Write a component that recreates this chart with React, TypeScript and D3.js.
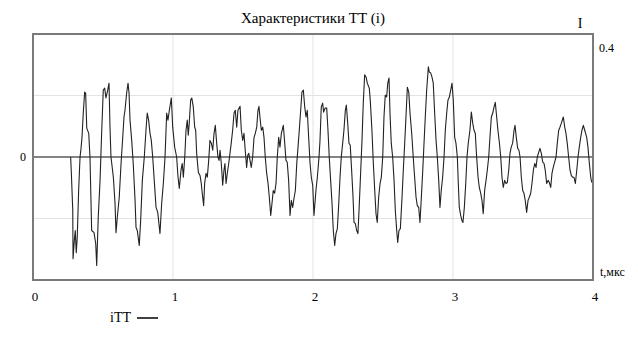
import React from "react";
import * as d3 from "d3";

const title = "Характеристики ТТ (i)";
const yAxisName = "I";
const xAxisName = "t,мкс";
const seriesName = "iТТ";
const xTicks = [0, 1, 2, 3, 4];
const yGrid = [-0.2, 0.2];
const yTopLabel = "0.4";
const yZeroLabel = "0";

const timeValues = [
  0.269, 0.274, 0.284, 0.286, 0.295, 0.302, 0.309, 0.316, 0.326, 0.336, 0.343, 0.35, 0.359, 0.369, 0.376, 0.384, 0.398, 0.407, 0.419, 0.436,
  0.448, 0.455, 0.466, 0.479, 0.491, 0.502, 0.512, 0.521, 0.534, 0.543, 0.55, 0.557, 0.574, 0.586, 0.593, 0.602, 0.616, 0.629, 0.641, 0.65,
  0.657, 0.669, 0.679, 0.686, 0.693, 0.705, 0.716, 0.729, 0.736, 0.745, 0.759, 0.769, 0.781, 0.795, 0.807, 0.816, 0.826, 0.836, 0.845, 0.855,
  0.866, 0.879, 0.891, 0.907, 0.919, 0.931, 0.943, 0.955, 0.964, 0.974, 0.988,
  0.998, 1.012, 1.026, 1.036, 1.045, 1.057, 1.066, 1.074, 1.084, 1.093, 1.102, 1.109, 1.116, 1.126, 1.134, 1.145, 1.155, 1.162, 1.169, 1.181,
  1.193, 1.202, 1.209, 1.219, 1.226, 1.236, 1.245, 1.255, 1.264, 1.274, 1.284, 1.293, 1.302, 1.312, 1.321, 1.329, 1.336, 1.345, 1.355, 1.364,
  1.371, 1.379, 1.388, 1.398, 1.407, 1.416, 1.426, 1.436, 1.445, 1.455, 1.464, 1.479, 1.488, 1.498, 1.507, 1.516, 1.526, 1.534, 1.541, 1.55,
  1.559, 1.569, 1.579, 1.588, 1.598, 1.607, 1.614, 1.621, 1.631, 1.641, 1.65, 1.659, 1.669, 1.679, 1.688, 1.698, 1.707, 1.716, 1.726, 1.736,
  1.745, 1.755, 1.764, 1.774, 1.788, 1.798, 1.807, 1.816, 1.826, 1.836, 1.845, 1.855, 1.864, 1.874, 1.884, 1.893, 1.902, 1.912, 1.921, 1.931,
  1.941, 1.95, 1.959, 1.969, 1.979, 1.988, 1.998,
  2.007, 2.021, 2.031, 2.043, 2.05, 2.059, 2.069, 2.076, 2.086, 2.098, 2.107, 2.116, 2.126, 2.136, 2.145, 2.155, 2.164, 2.174, 2.184, 2.193,
  2.202, 2.212, 2.221, 2.231, 2.238, 2.248, 2.257, 2.266, 2.276, 2.286, 2.293, 2.302, 2.312, 2.321, 2.331, 2.341, 2.35, 2.359, 2.369, 2.379,
  2.388, 2.402, 2.409, 2.421, 2.431, 2.441, 2.45, 2.459, 2.469, 2.479, 2.488, 2.498, 2.507, 2.516, 2.526, 2.534, 2.543, 2.55, 2.559, 2.569,
  2.579, 2.588, 2.598, 2.605, 2.614, 2.624, 2.636, 2.645, 2.655, 2.664, 2.674, 2.684, 2.693, 2.705, 2.716, 2.726, 2.736, 2.745, 2.755, 2.764,
  2.774, 2.784, 2.793, 2.802, 2.812, 2.824, 2.831, 2.841, 2.85, 2.859, 2.869, 2.879, 2.888, 2.898, 2.907, 2.916, 2.926, 2.936, 2.945, 2.955,
  2.964, 2.974, 2.984, 2.993,
  3.002, 3.012, 3.021, 3.031, 3.038, 3.045, 3.055, 3.064, 3.071, 3.081, 3.091, 3.1, 3.109, 3.121, 3.131, 3.141, 3.15, 3.159, 3.169, 3.179,
  3.188, 3.198, 3.207, 3.216, 3.226, 3.236, 3.245, 3.255, 3.264, 3.274, 3.284, 3.293, 3.302, 3.312, 3.321, 3.331, 3.341, 3.35, 3.359, 3.369,
  3.379, 3.388, 3.398, 3.407, 3.416, 3.426, 3.436, 3.443, 3.452, 3.462, 3.471, 3.479, 3.488, 3.498, 3.507, 3.516, 3.526, 3.536, 3.545, 3.555,
  3.564, 3.574, 3.584, 3.593, 3.602, 3.612, 3.621, 3.631, 3.641, 3.65, 3.659, 3.669, 3.679, 3.688, 3.698, 3.707, 3.716, 3.726, 3.736, 3.745,
  3.755, 3.764, 3.774, 3.788, 3.798, 3.807, 3.816, 3.826, 3.836, 3.845, 3.855, 3.864, 3.874, 3.884, 3.893, 3.902, 3.912, 3.921, 3.931, 3.941,
  3.955, 3.964, 3.974, 3.984, 3.991,
];

const currentValues = [
  0.0, -0.053, -0.174, -0.331, -0.272, -0.239, -0.311, -0.262, -0.109, 0.0, 0.028, 0.064, 0.143, 0.211, 0.208, 0.094, 0.077, 0.0, -0.239, -0.246,
  -0.282, -0.353, -0.197, -0.076, 0.087, 0.218, 0.224, 0.192, 0.218, 0.24, 0.097, 0.0, -0.066, -0.151, -0.246, -0.197, -0.131, -0.021, 0.064, 0.13,
  0.152, 0.208, 0.24, 0.208, 0.12, 0.054, -0.021, -0.141, -0.229, -0.239, -0.288, -0.207, -0.076, 0.0, 0.087, 0.143, 0.12, 0.077, 0.054, 0.0,
  -0.076, -0.164, -0.18, -0.249, -0.151, -0.086, 0.0, 0.143, 0.12, 0.152, 0.192,
  0.097, 0.032, 0.0, -0.066, -0.102, -0.043, -0.021, -0.066, 0.0, 0.087, 0.12, 0.071, 0.11, 0.185, 0.192, 0.162, 0.097, 0.087, 0.012, -0.05,
  -0.06, -0.086, -0.118, -0.158, -0.086, -0.053, -0.066, -0.011, 0.054, 0.045, 0.022, 0.077, 0.103, 0.045, 0.0, -0.011, 0.022, -0.021, -0.092, -0.043,
  -0.021, -0.086, -0.053, -0.021, 0.012, 0.045, 0.087, 0.143, 0.152, 0.097, 0.152, 0.165, 0.087, 0.054, 0.077, 0.022, -0.034, 0.006, 0.012, -0.011,
  -0.034, 0.0, 0.064, 0.077, 0.097, 0.152, 0.165, 0.13, 0.087, 0.097, 0.064, 0.0, -0.053, -0.086, -0.131, -0.19, -0.151, -0.109, -0.118, -0.086,
  0.0, 0.064, 0.032, 0.077, 0.103, 0.045, -0.011, -0.017, -0.076, -0.19, -0.141, -0.164, -0.135, -0.109, -0.021, 0.032, 0.087, 0.152, 0.211, 0.218,
  0.162, 0.13, 0.152, 0.064, -0.021, -0.066, -0.092,
  -0.19, -0.109, -0.066, 0.0, 0.054, 0.162, 0.175, 0.146, 0.159, 0.159, 0.087, 0.0, -0.076, -0.151, -0.239, -0.288, -0.249, -0.233, -0.151, -0.066,
  0.0, 0.045, 0.087, 0.152, 0.169, 0.11, 0.045, 0.038, -0.043, -0.131, -0.213, -0.216, -0.239, -0.249, -0.151, -0.043, 0.054, 0.175, 0.267, 0.26,
  0.24, 0.224, 0.185, 0.087, -0.021, -0.109, -0.184, -0.213, -0.131, -0.086, -0.066, 0.0, 0.13, 0.201, 0.195, 0.24, 0.257, 0.143, 0.045, 0.0,
  -0.076, -0.174, -0.239, -0.278, -0.239, -0.233, -0.131, -0.043, 0.045, 0.13, 0.227, 0.211, 0.143, 0.077, 0.0, -0.066, -0.131, -0.158, -0.164, -0.213,
  -0.131, -0.043, 0.045, 0.13, 0.218, 0.293, 0.276, 0.273, 0.26, 0.24, 0.143, 0.054, 0.0, -0.076, -0.164, -0.109, -0.066, 0.0, 0.087, 0.143,
  0.185, 0.195, 0.218, 0.24,
  0.185, 0.064, 0.045, 0.0, -0.086, -0.164, -0.19, -0.207, -0.213, -0.164, -0.086, 0.0, 0.045, 0.087, 0.146, 0.11, 0.087, 0.077, 0.0, -0.066,
  -0.099, -0.118, -0.141, -0.184, -0.109, -0.076, -0.043, 0.0, 0.064, 0.13, 0.143, 0.162, 0.178, 0.13, 0.087, 0.048, 0.0, -0.066, -0.099, -0.076,
  -0.086, -0.083, -0.043, 0.012, 0.032, 0.045, 0.087, 0.103, 0.064, 0.028, 0.022, 0.0, -0.066, -0.109, -0.118, -0.141, -0.18, -0.141, -0.131, -0.118,
  -0.086, -0.043, -0.021, -0.034, 0.0, 0.015, 0.028, 0.012, -0.017, -0.021, -0.043, -0.086, -0.076, -0.083, -0.099, -0.053, -0.034, -0.017, 0.0, 0.045,
  0.087, 0.097, 0.11, 0.13, 0.097, 0.077, 0.045, 0.0, -0.043, -0.06, -0.066, -0.066, -0.086, -0.043, 0.0, 0.032, 0.064, 0.087, 0.103, 0.087,
  0.064, 0.032, -0.021, -0.066, -0.083,
];

const W = 638;
const H = 360;
const plot = { left: 33, right: 593, top: 34, bottom: 280 };
const FONT = "'Liberation Serif', 'Times New Roman', serif";

export default function App() {
  const x = d3.scaleLinear().domain([0, 4]).range([plot.left, plot.right]);
  const y = d3.scaleLinear().domain([-0.4, 0.4]).range([plot.bottom, plot.top]);
  const points: [number, number][] = timeValues.map((t, i) => [t, currentValues[i]]);
  const line = d3
    .line<[number, number]>()
    .x((d) => x(d[0]))
    .y((d) => y(d[1]));

  return (
    <svg
      width={W}
      height={H}
      style={{ position: "absolute", left: 0, top: 0, background: "#fff" }}
      fontFamily={FONT}
    >
      <rect x={0} y={0} width={W} height={H} fill="#fff" />
      {xTicks.slice(1, -1).map((t) => (
        <line key={"vx" + t} x1={x(t)} x2={x(t)} y1={plot.top} y2={plot.bottom} stroke="#e3e3e3" strokeWidth={1} />
      ))}
      {yGrid.map((v) => (
        <line key={"gy" + v} x1={plot.left} x2={plot.right} y1={y(v)} y2={y(v)} stroke="#e3e3e3" strokeWidth={1.2} />
      ))}
      <line x1={plot.left} x2={plot.right} y1={y(0)} y2={y(0)} stroke="#5a5a5a" strokeWidth={1.4} />
      <path d={line(points) || ""} fill="none" stroke="#222" strokeWidth={1.1} strokeLinejoin="round" />
      <rect
        x={plot.left}
        y={plot.top}
        width={plot.right - plot.left}
        height={plot.bottom - plot.top}
        fill="none"
        stroke="#7a7a7a"
        strokeWidth={2}
      />
      <text x={313} y={23} fontSize={15} textAnchor="middle" fill="#000">
        {title}
      </text>
      <text x={580} y={28} fontSize={14} textAnchor="middle" fill="#000">
        {yAxisName}
      </text>
      <text x={599} y={52} fontSize={12} fill="#000">
        {yTopLabel}
      </text>
      <text x={26} y={y(0) + 4} fontSize={12} textAnchor="end" fill="#000">
        {yZeroLabel}
      </text>
      {xTicks.map((t) => (
        <text key={"xt" + t} x={x(t) + 2} y={301} fontSize={13} textAnchor="middle" fill="#000">
          {t}
        </text>
      ))}
      <text x={600} y={276} fontSize={12} fill="#000">
        {xAxisName}
      </text>
      <text x={110} y={322} fontSize={14} fill="#000">
        {seriesName}
      </text>
      <line x1={137} x2={158} y1={318} y2={318} stroke="#000" strokeWidth={1.5} />
    </svg>
  );
}
